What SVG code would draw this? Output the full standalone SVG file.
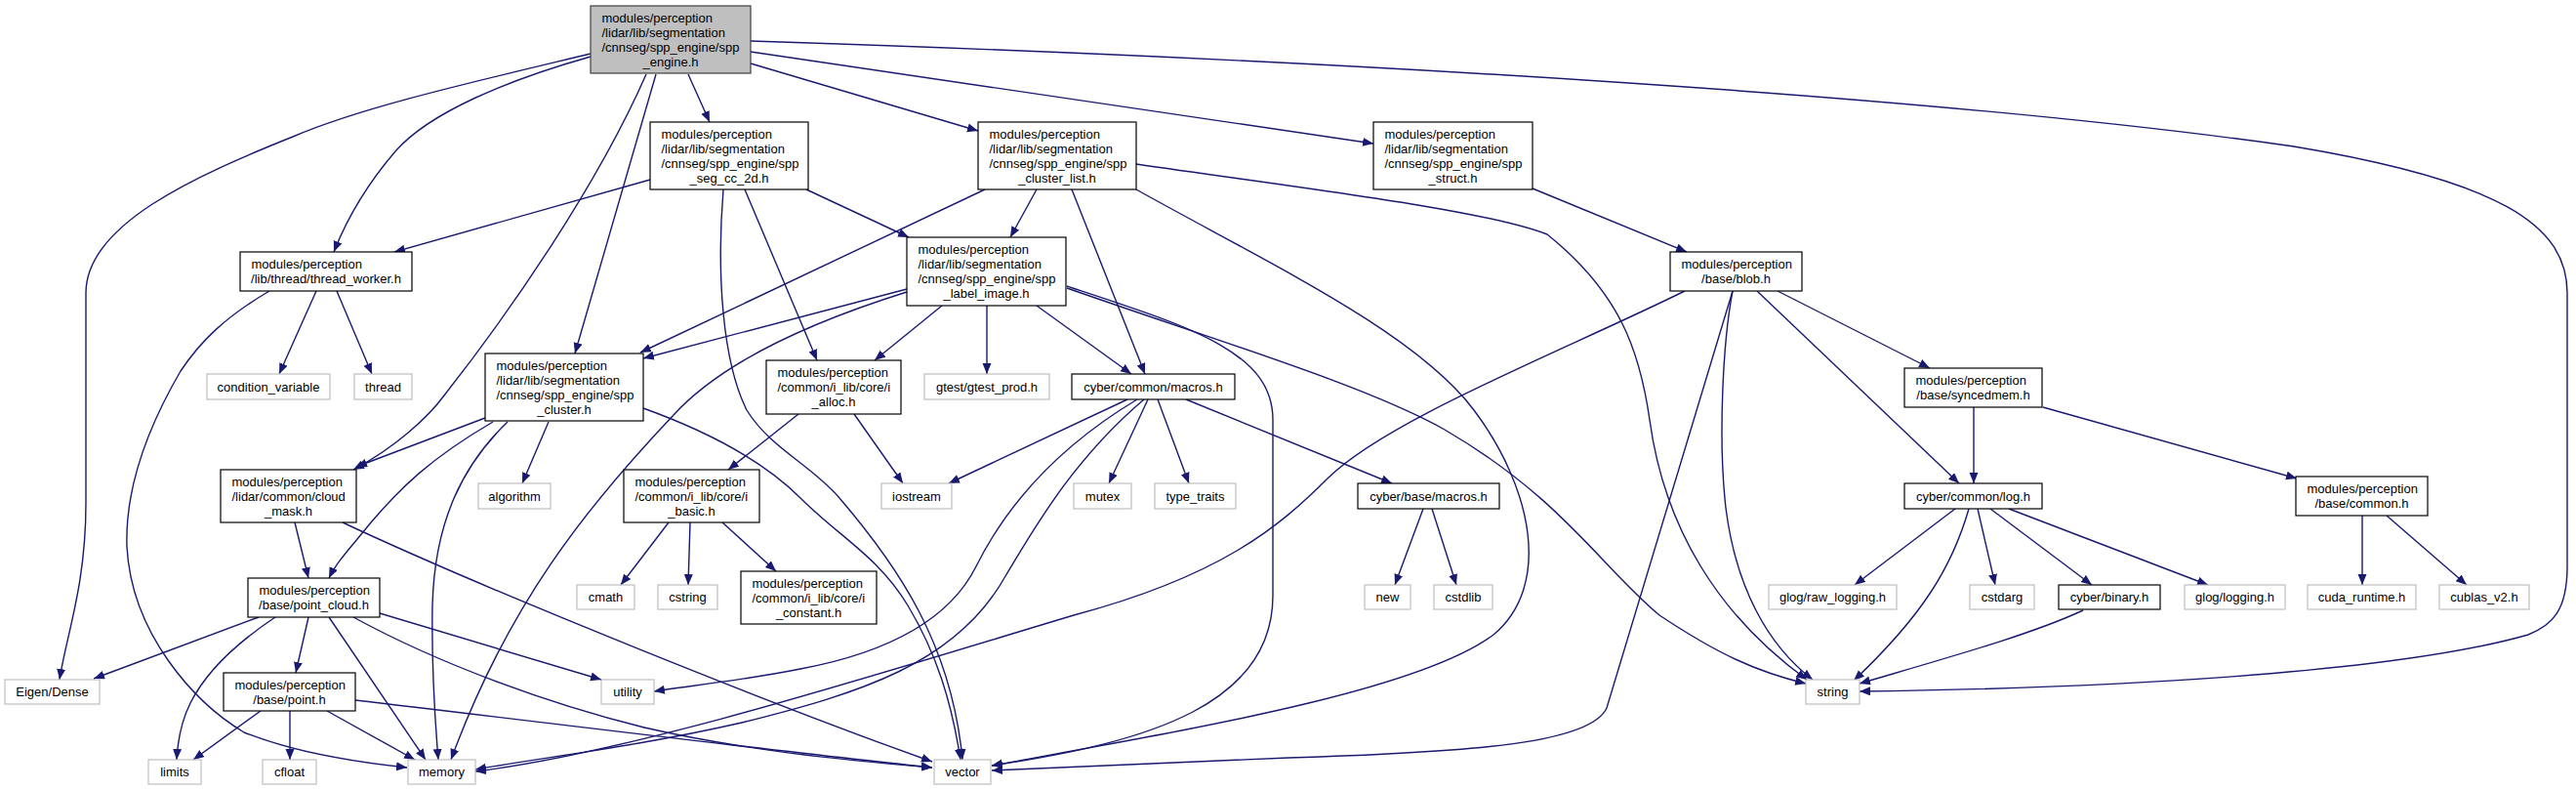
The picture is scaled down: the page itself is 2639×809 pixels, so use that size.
<svg xmlns="http://www.w3.org/2000/svg" width="2639" height="809" viewBox="0 0 2639 809">
<defs>
<marker id="a" markerWidth="12" markerHeight="10" refX="11" refY="4.5" orient="auto" markerUnits="userSpaceOnUse"><path d="M0,0 L11,4.5 L0,9 z" fill="#191970"/></marker>
<style>
rect{fill:#fff;stroke:#000;stroke-width:1.2}
.x rect{stroke:#bfbfbf}
.r rect{fill:#bfbfbf;stroke:#404040}
text{font-family:"Liberation Sans",Arial,Helvetica,sans-serif;font-size:13px;fill:#000}
.c{text-anchor:middle}
#edges path{fill:none;stroke:#191970;stroke-width:1.4;marker-end:url(#a)}
</style>
</defs>
<rect x="0" y="0" width="2639" height="809" style="fill:#fff;stroke:none"/>
<g id="edges">
<path d="M605,55 C480,85 370,110 300,140 C200,180 88,230 88,300 L88,515 C88,600 68,650 61,696"/>
<path d="M605,58 C520,82 440,115 405,155 C375,190 355,225 342,258"/>
<path d="M662,76 C612,190 522,320 455,405 C438,428 405,458 362,481"/>
<path d="M672,76 L589,362"/>
<path d="M705,76 L727,125"/>
<path d="M769,65 L1002,134"/>
<path d="M769,53 L1407,147"/>
<path d="M769,42 C1400,62 2000,100 2350,150 C2560,185 2630,230 2630,300 L2630,580 C2630,625 2615,640 2590,650 C2450,690 2150,705 1905,708"/>
<path d="M666,184 L404,258"/>
<path d="M741,194 C734,280 740,370 765,420 C790,460 830,475 860,510 C920,580 975,660 986,778"/>
<path d="M826,194 L931,243"/>
<path d="M763,194 L837,369"/>
<path d="M1062,194 L1035,243"/>
<path d="M1009,194 L656,361"/>
<path d="M1098,194 L1173,383"/>
<path d="M1164,168 C1350,195 1520,215 1585,240 C1660,300 1680,360 1690,430 C1705,540 1760,630 1851,696"/>
<path d="M1164,194 C1300,270 1450,340 1510,420 C1570,500 1590,600 1530,650 C1450,710 1200,750 1016,784"/>
<path d="M929,296 L659,367"/>
<path d="M929,299 C830,330 740,370 690,425 C600,520 520,620 462,778"/>
<path d="M965,313 L896,369"/>
<path d="M1011,313 L1011,383"/>
<path d="M1062,313 L1159,383"/>
<path d="M1093,293 C1220,335 1304,360 1304,430 L1304,610 C1304,720 1180,760 1016,784"/>
<path d="M1093,295 C1250,350 1400,395 1480,440 C1600,510 1640,580 1700,630 C1760,670 1800,688 1850,700"/>
<path d="M497,428 L365,478"/>
<path d="M505,432 C440,470 410,500 380,535 C360,560 345,575 337,592"/>
<path d="M562,432 L535,495"/>
<path d="M520,432 C470,480 445,540 443,620 C442,680 445,730 449,778"/>
<path d="M659,418 C720,440 780,470 820,510 C860,550 900,570 930,620 C960,670 975,720 984,778"/>
<path d="M324,298 L286,383"/>
<path d="M345,298 L381,383"/>
<path d="M276,298 C230,325 205,350 185,380 C150,440 128,500 130,560 C135,650 200,720 250,750 C300,770 360,780 417,786"/>
<path d="M302,535 L316,592"/>
<path d="M351,535 C500,605 800,725 955,780"/>
<path d="M265,632 L96,695"/>
<path d="M282,632 C240,660 210,690 195,720 C185,740 182,760 181,778"/>
<path d="M316,632 L303,689"/>
<path d="M337,632 L436,778"/>
<path d="M362,632 C450,680 560,720 660,745 C760,768 860,778 955,786"/>
<path d="M389,628 L616,696"/>
<path d="M267,728 L198,778"/>
<path d="M297,728 L297,778"/>
<path d="M335,728 L425,778"/>
<path d="M364,717 C560,740 800,770 955,786"/>
<path d="M818,424 L746,481"/>
<path d="M875,424 L925,495"/>
<path d="M685,535 L636,599"/>
<path d="M707,535 L705,599"/>
<path d="M740,535 L795,585"/>
<path d="M1155,409 L972,495"/>
<path d="M1176,409 L1136,495"/>
<path d="M1186,409 L1218,495"/>
<path d="M1165,409 C1080,460 1030,520 1000,580 C970,640 900,670 820,685 C760,697 700,703 670,708"/>
<path d="M1172,409 C1100,470 1060,540 1030,590 C980,680 880,710 760,740 C650,765 560,775 487,788"/>
<path d="M1215,409 L1426,495"/>
<path d="M1458,521 L1429,599"/>
<path d="M1467,521 L1492,599"/>
<path d="M1570,193 L1728,258"/>
<path d="M1821,298 L1977,377"/>
<path d="M1800,298 L2007,495"/>
<path d="M1726,298 C1600,360 1420,430 1360,490 C1310,540 1250,590 1100,630 C900,690 650,770 487,790"/>
<path d="M1775,298 L1646,725 C1630,760 1520,770 1320,776 L1016,789"/>
<path d="M1775,298 C1765,350 1760,450 1768,520 C1778,600 1810,660 1857,696"/>
<path d="M2022,417 L2022,495"/>
<path d="M2093,417 L2353,490"/>
<path d="M2003,521 L1900,599"/>
<path d="M2017,521 C2000,580 1970,630 1899,697"/>
<path d="M2026,521 L2044,599"/>
<path d="M2039,521 L2143,599"/>
<path d="M2058,521 L2262,599"/>
<path d="M2134,625 C2080,650 2000,672 1905,700"/>
<path d="M2420,528 L2420,599"/>
<path d="M2445,528 L2527,599"/>
</g>
<g id="node-main" class="r"><rect x="605" y="6" width="164" height="69"/><text x="616.5" y="22.5">modules/perception</text><text x="616.5" y="37.5">/lidar/lib/segmentation</text><text x="616.5" y="52.5">/cnnseg/spp_engine/spp</text><text class="c" x="687" y="67.5">_engine.h</text></g>
<g id="node-thread_worker"><rect x="246" y="258" width="176" height="40"/><text x="257.5" y="275">modules/perception</text><text class="c" x="334" y="290">/lib/thread/thread_worker.h</text></g>
<g id="node-condition_variable" class="x"><rect x="212" y="383" width="126" height="26"/><text class="c" x="275" y="400.5">condition_variable</text></g>
<g id="node-thread" class="x"><rect x="363" y="383" width="59" height="26"/><text class="c" x="392.5" y="400.5">thread</text></g>
<g id="node-spp_seg_cc_2d"><rect x="666" y="125" width="162" height="69"/><text x="677.5" y="141.5">modules/perception</text><text x="677.5" y="156.5">/lidar/lib/segmentation</text><text x="677.5" y="171.5">/cnnseg/spp_engine/spp</text><text class="c" x="747" y="186.5">_seg_cc_2d.h</text></g>
<g id="node-spp_cluster_list"><rect x="1002" y="125" width="162" height="69"/><text x="1013.5" y="141.5">modules/perception</text><text x="1013.5" y="156.5">/lidar/lib/segmentation</text><text x="1013.5" y="171.5">/cnnseg/spp_engine/spp</text><text class="c" x="1083" y="186.5">_cluster_list.h</text></g>
<g id="node-spp_struct"><rect x="1407" y="125" width="163" height="69"/><text x="1418.5" y="141.5">modules/perception</text><text x="1418.5" y="156.5">/lidar/lib/segmentation</text><text x="1418.5" y="171.5">/cnnseg/spp_engine/spp</text><text class="c" x="1488.5" y="186.5">_struct.h</text></g>
<g id="node-spp_label_image"><rect x="929" y="243" width="163" height="70"/><text x="940.5" y="260">modules/perception</text><text x="940.5" y="275">/lidar/lib/segmentation</text><text x="940.5" y="290">/cnnseg/spp_engine/spp</text><text class="c" x="1010.5" y="305">_label_image.h</text></g>
<g id="node-spp_cluster"><rect x="497" y="362" width="162" height="69"/><text x="508.5" y="378.5">modules/perception</text><text x="508.5" y="393.5">/lidar/lib/segmentation</text><text x="508.5" y="408.5">/cnnseg/spp_engine/spp</text><text class="c" x="578" y="423.5">_cluster.h</text></g>
<g id="node-i_alloc"><rect x="785" y="369" width="138" height="55"/><text x="796.5" y="386">modules/perception</text><text x="796.5" y="401">/common/i_lib/core/i</text><text class="c" x="854" y="416">_alloc.h</text></g>
<g id="node-gtest_prod" class="x"><rect x="947" y="383" width="128" height="26"/><text class="c" x="1011" y="400.5">gtest/gtest_prod.h</text></g>
<g id="node-common_macros"><rect x="1098" y="383" width="167" height="26"/><text class="c" x="1181.5" y="400.5">cyber/common/macros.h</text></g>
<g id="node-blob"><rect x="1711" y="258" width="135" height="40"/><text x="1722.5" y="275">modules/perception</text><text class="c" x="1778.5" y="290">/base/blob.h</text></g>
<g id="node-syncedmem"><rect x="1951" y="377" width="141" height="40"/><text x="1962.5" y="394">modules/perception</text><text class="c" x="2021.5" y="409">/base/syncedmem.h</text></g>
<g id="node-cloud_mask"><rect x="226" y="481" width="139" height="54"/><text x="237.5" y="497.5">modules/perception</text><text x="237.5" y="512.5">/lidar/common/cloud</text><text class="c" x="295.5" y="527.5">_mask.h</text></g>
<g id="node-algorithm" class="x"><rect x="490" y="495" width="74" height="26"/><text class="c" x="527" y="512.5">algorithm</text></g>
<g id="node-i_basic"><rect x="639" y="481" width="139" height="54"/><text x="650.5" y="497.5">modules/perception</text><text x="650.5" y="512.5">/common/i_lib/core/i</text><text class="c" x="708.5" y="527.5">_basic.h</text></g>
<g id="node-iostream" class="x"><rect x="903" y="495" width="72" height="26"/><text class="c" x="939" y="512.5">iostream</text></g>
<g id="node-mutex" class="x"><rect x="1100" y="495" width="59" height="26"/><text class="c" x="1129.5" y="512.5">mutex</text></g>
<g id="node-type_traits" class="x"><rect x="1183" y="495" width="83" height="26"/><text class="c" x="1224.5" y="512.5">type_traits</text></g>
<g id="node-base_macros"><rect x="1391" y="495" width="145" height="26"/><text class="c" x="1463.5" y="512.5">cyber/base/macros.h</text></g>
<g id="node-log"><rect x="1951" y="495" width="141" height="26"/><text class="c" x="2021.5" y="512.5">cyber/common/log.h</text></g>
<g id="node-common"><rect x="2352" y="488" width="135" height="40"/><text x="2363.5" y="505">modules/perception</text><text class="c" x="2419.5" y="520">/base/common.h</text></g>
<g id="node-cmath" class="x"><rect x="591" y="599" width="59" height="25"/><text class="c" x="620.5" y="616">cmath</text></g>
<g id="node-cstring" class="x"><rect x="674" y="599" width="61" height="25"/><text class="c" x="704.5" y="616">cstring</text></g>
<g id="node-i_constant"><rect x="759" y="585" width="139" height="54"/><text x="770.5" y="601.5">modules/perception</text><text x="770.5" y="616.5">/common/i_lib/core/i</text><text class="c" x="828.5" y="631.5">_constant.h</text></g>
<g id="node-new" class="x"><rect x="1398" y="599" width="47" height="25"/><text class="c" x="1421.5" y="616">new</text></g>
<g id="node-cstdlib" class="x"><rect x="1469" y="599" width="60" height="25"/><text class="c" x="1499" y="616">cstdlib</text></g>
<g id="node-raw_logging" class="x"><rect x="1812" y="599" width="131" height="25"/><text class="c" x="1877.5" y="616">glog/raw_logging.h</text></g>
<g id="node-cstdarg" class="x"><rect x="2018" y="599" width="66" height="25"/><text class="c" x="2051" y="616">cstdarg</text></g>
<g id="node-binary"><rect x="2109" y="599" width="104" height="25"/><text class="c" x="2161" y="616">cyber/binary.h</text></g>
<g id="node-glog_logging" class="x"><rect x="2238" y="599" width="103" height="25"/><text class="c" x="2289.5" y="616">glog/logging.h</text></g>
<g id="node-cuda_runtime" class="x"><rect x="2364" y="599" width="111" height="25"/><text class="c" x="2419.5" y="616">cuda_runtime.h</text></g>
<g id="node-cublas_v2" class="x"><rect x="2499" y="599" width="92" height="25"/><text class="c" x="2545" y="616">cublas_v2.h</text></g>
<g id="node-point_cloud"><rect x="254" y="592" width="135" height="40"/><text x="265.5" y="609">modules/perception</text><text class="c" x="321.5" y="624">/base/point_cloud.h</text></g>
<g id="node-eigen" class="x"><rect x="5" y="696" width="97" height="25"/><text class="c" x="53.5" y="713">Eigen/Dense</text></g>
<g id="node-utility" class="x"><rect x="616" y="696" width="54" height="25"/><text class="c" x="643" y="713">utility</text></g>
<g id="node-string" class="x"><rect x="1850" y="696" width="55" height="25"/><text class="c" x="1877.5" y="713">string</text></g>
<g id="node-point"><rect x="229" y="689" width="135" height="39"/><text x="240.5" y="705.5">modules/perception</text><text class="c" x="296.5" y="720.5">/base/point.h</text></g>
<g id="node-limits" class="x"><rect x="152" y="778" width="54" height="25"/><text class="c" x="179" y="795">limits</text></g>
<g id="node-cfloat" class="x"><rect x="269" y="778" width="55" height="25"/><text class="c" x="296.5" y="795">cfloat</text></g>
<g id="node-memory" class="x"><rect x="418" y="778" width="69" height="25"/><text class="c" x="452.5" y="795">memory</text></g>
<g id="node-vector" class="x"><rect x="957" y="778" width="58" height="25"/><text class="c" x="986" y="795">vector</text></g>
</svg>
